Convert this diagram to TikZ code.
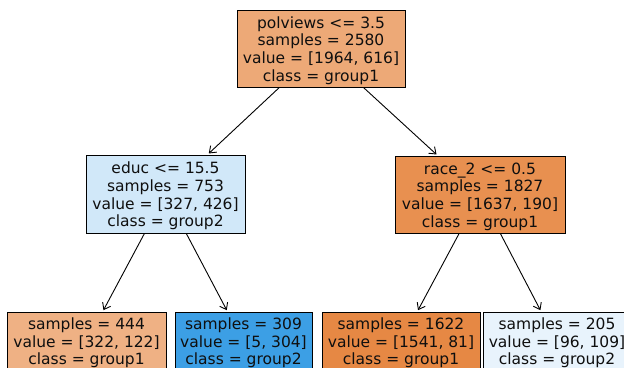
\documentclass[tikz,border=0pt]{standalone}
\usepackage{fontspec}
\setmainfont{DejaVu Sans}
\usetikzlibrary{arrows.meta}
\definecolor{cRoot}{RGB}{237,169,119}
\definecolor{cLM}{RGB}{209,232,249}
\definecolor{cRM}{RGB}{232,144,80}
\definecolor{cBA}{RGB}{239,177,132}
\definecolor{cBB}{RGB}{60,159,229}
\definecolor{cBC}{RGB}{230,136,68}
\definecolor{cBD}{RGB}{232,243,252}
\definecolor{txt}{RGB}{15,15,15}
\tikzset{
  treebox/.style={draw=black, line width=1pt, inner sep=0pt},
  treetext/.style={align=center, inner sep=0pt, text=txt,
    font=\fontsize{15.5pt}{17.6pt}\selectfont},
  edge/.style={line width=0.9pt, -{Straight Barb[length=6pt,width=9pt]}, shorten >=1.5pt}
}
\begin{document}
\begin{tikzpicture}[x=1pt,y=-1pt]
\useasboundingbox (0,0) rectangle (624,367);
\clip (0,0) rectangle (624,367);
\node[treebox, fill=cRoot, minimum width=168pt, minimum height=77pt] (root) at (321,48.5) {};
\node[treebox, fill=cLM, minimum width=159pt, minimum height=78pt] (lm) at (165.5,194) {};
\node[treebox, fill=cRM, minimum width=170pt, minimum height=77pt] (rm) at (480,194.5) {};
\node[treebox, fill=cBA, minimum width=159pt, minimum height=60pt] (ba) at (86.5,342) {};
\node[treebox, fill=cBB, minimum width=137pt, minimum height=60pt] (bb) at (243.5,342) {};
\node[treebox, fill=cBC, minimum width=158pt, minimum height=60pt] (bc) at (401,342) {};
\node[treebox, fill=cBD, minimum width=148pt, minimum height=60pt] (bd) at (557,342) {};
\node[treetext] (roott) at ([yshift=-2pt]root.center)
  {polviews <= 3.5\\samples = 2580\\value = [1964, 616]\\class = group1};
\node[treetext] (lmt) at ([yshift=-2pt]lm.center)
  {educ <= 15.5\\samples = 753\\value = [327, 426]\\class = group2};
\node[treetext] (rmt) at ([yshift=-2pt]rm.center)
  {race\_2 <= 0.5\\samples = 1827\\value = [1637, 190]\\class = group1};
\node[treetext] (bat) at ([yshift=-1pt]ba.center)
  {samples = 444\\value = [322, 122]\\class = group1};
\node[treetext] (bbt) at ([yshift=-1pt]bb.center)
  {samples = 309\\value = [5, 304]\\class = group2};
\node[treetext] (bct) at ([yshift=-1pt]bc.center)
  {samples = 1622\\value = [1541, 81]\\class = group1};
\node[treetext] (bdt) at ([yshift=-1pt]bd.center)
  {samples = 205\\value = [96, 109]\\class = group2};
\draw[edge] (root) -- (lm);
\draw[edge] (root) -- (rm);
\draw[edge] (lm) -- (ba);
\draw[edge] (lm) -- (bb);
\draw[edge] (rm) -- (bc);
\draw[edge] (rm) -- (bd);
\end{tikzpicture}
\end{document}
